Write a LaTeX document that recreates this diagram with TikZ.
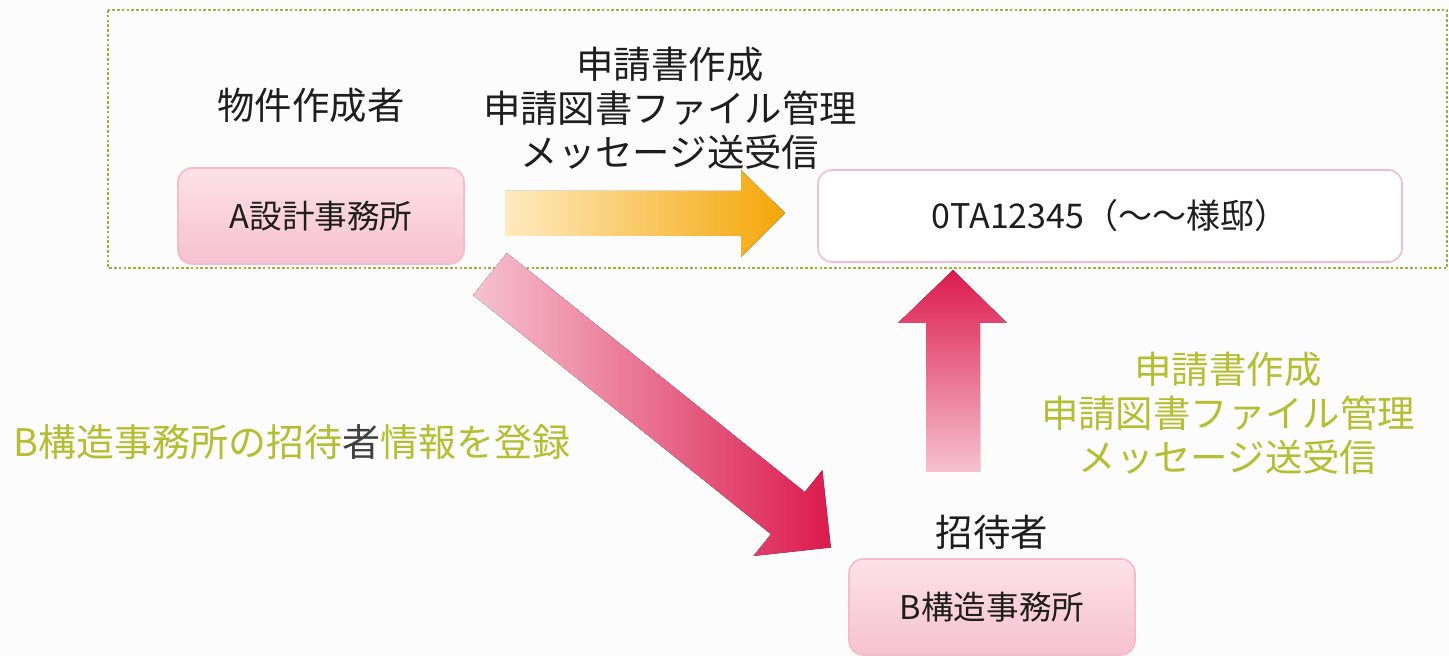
\documentclass[tikz,border=0pt]{standalone}
\usepackage{fontspec}
\setmainfont{Noto Sans CJK JP}
\usetikzlibrary{positioning}

\definecolor{paper}{HTML}{FCFCFC}
\definecolor{ink}{HTML}{1E1E1E}
\definecolor{moss}{HTML}{A3AD3C}
\definecolor{leaf}{HTML}{B4BE30}
\definecolor{blush}{HTML}{FCE1E9}
\definecolor{blushdark}{HTML}{F6C1D0}
\definecolor{rim}{HTML}{F3BCCB}
\definecolor{rose}{HTML}{F6C2D0}
\definecolor{crimson}{HTML}{DC1A4E}
\definecolor{cream}{HTML}{FEEABF}
\definecolor{amber}{HTML}{F5A608}

\begin{document}
\begin{tikzpicture}[x=0.5pt,y=-0.5pt,
                    office/.style={rounded corners=7pt,draw=rim,line width=0.8pt,
                      top color=blush,middle color=blush,bottom color=blushdark,
                      minimum width=143pt,minimum height=48pt,
                      font=\fontsize{16.3}{19}\selectfont,text=ink},
                    project/.style={rounded corners=7pt,draw=rim,line width=0.8pt,fill=white,
                      minimum width=292pt,minimum height=46pt,
                      font=\fontsize{17}{20}\selectfont,text=ink},
                    label/.style={font=\fontsize{18.7}{22}\selectfont,text=ink,align=center},
                    note/.style={font=\fontsize{18.7}{22}\selectfont,text=leaf,align=center},
                    frame/.style={draw=moss,line width=1.3pt,dash pattern=on 1.3pt off 1.1pt}]

  \fill[paper] (0,0) rectangle (1449,656);
  \useasboundingbox (0,0) rectangle (1449,656);

  \draw[frame] (108,10) rectangle (1447,268);

  % arrows
  \coordinate (sendA) at (505,213);
  \coordinate (sendB) at (953,472);
  \coordinate (invA)  at (490,274);

  \begin{scope}[shift={(sendA)}]
    \fill[left color=cream,right color=amber]
      (0,-22) -- (236,-22) -- (236,-43) -- (280,0) -- (236,44) -- (236,23) -- (0,23) -- cycle;
  \end{scope}
  \begin{scope}[shift={(sendB)}]
    \fill[bottom color=rose,top color=crimson]
      (-27,0) -- (-27,-149) -- (-55,-149) -- (0,-202) -- (54,-149) -- (27,-149) -- (27,0) -- cycle;
  \end{scope}
  \begin{scope}[shift={(invA)},rotate=-38.75]
    \fill[left color=rose,right color=crimson]
      (0,-27) -- (382,-27) -- (382,-55) -- (437,0) -- (382,55) -- (382,27) -- (0,27) -- cycle;
  \end{scope}

  % boxes
  \node[office]  (arch)   at (321,216)  {A設計事務所};
  \node[project] (case)   at (1110,216) {0TA12345（～～様邸）};
  \node[office]  (struct) at (992,607)  {B構造事務所};

  \node[label] (maker) at (311,105) {物件作成者};
  \node[label] (guest) [above=1pt of struct] {招待者};
  \node[label] (tasks) at (670,108) {申請書作成\\申請図書ファイル管理\\メッセージ送受信};
  \node[note]  (share) at (1228,413) {申請書作成\\申請図書ファイル管理\\メッセージ送受信};
  \node[note,font=\fontsize{19}{22}\selectfont] (invite) at (292,442)
    {B構造事務所の招待{\color{ink!85}者}情報を登録};

\end{tikzpicture}
\end{document}
